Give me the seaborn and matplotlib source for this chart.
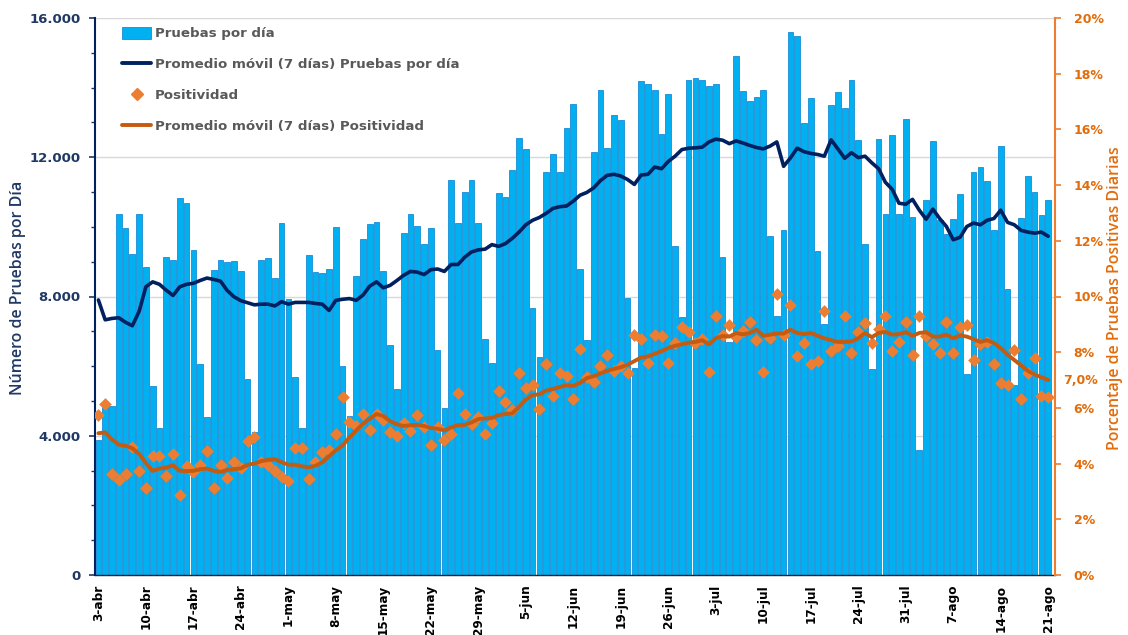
import numpy as np
import pandas as pd
import matplotlib
matplotlib.use("Agg")
import matplotlib.pyplot as plt
from matplotlib.lines import Line2D
from matplotlib.patches import Patch
from matplotlib.ticker import MultipleLocator, FuncFormatter
import seaborn as sns

# ---------------------------------------------------------------- data
fecha_inicio = "2020-04-03"
meses = {4: "abr", 5: "may", 6: "jun", 7: "jul", 8: "ago"}

pruebas_por_dia = [
    3870, 4850, 4850, 10360, 9960, 9220, 10360, 8850, 5430, 4230,
    9140, 9050, 10820, 10700, 9330, 6070, 4540, 8750, 9040, 9000,
    9020, 8740, 5630, 4100, 9050, 9120, 8530, 10110, 7930, 5680,
    4230, 9200, 8700, 8680, 8790, 9990, 6000, 4570, 8590, 9640,
    10090, 10130, 8730, 6610, 5330, 9830, 10360, 10020, 9520, 9960,
    6460, 4810, 11350, 10110, 11000, 11340, 10110, 6790, 6090, 10960,
    10860, 11630, 12550, 12240, 7660, 6270, 11590, 12100, 11590, 12840,
    13530, 8780, 6760, 12160, 13930, 12280, 13220, 13060, 7970, 5940,
    14200, 14100, 13930, 12680, 13810, 9440, 7420, 14230, 14280, 14210,
    14040, 14100, 9130, 6690, 14900, 13900, 13610, 13720, 13940, 9730,
    7430, 9900, 15600, 15490, 12970, 13690, 9320, 7200, 13490, 13880,
    13420, 14210, 12500, 9500, 5920, 12520, 10360, 12630, 10360, 13090,
    10270, 3590, 10780, 12460, 10200, 9800, 10240, 10950, 5780, 11590,
    11710, 11330, 9910, 12310, 8210, 5470, 10260, 11470, 10990, 10340,
    10780,
]

promedio_pruebas = [
    7900, 7330, 7370, 7390, 7260, 7160, 7570, 8280, 8420, 8350,
    8180, 8030, 8280, 8350, 8380, 8460, 8530, 8490, 8440, 8170,
    7990, 7880, 7820, 7760, 7780, 7780, 7730, 7850, 7780, 7830,
    7830, 7830, 7800, 7780, 7600, 7890, 7920, 7940, 7890, 8040,
    8300, 8420, 8250, 8320, 8460, 8610, 8720, 8700, 8630, 8770,
    8790, 8720, 8920, 8920, 9130, 9280, 9340, 9360, 9490, 9440,
    9520, 9670, 9850, 10060, 10190, 10270, 10390, 10530, 10580, 10600,
    10740, 10910, 10990, 11120, 11330, 11480, 11510, 11460, 11360, 11220,
    11490, 11510, 11720, 11670, 11880, 12030, 12220, 12260, 12270, 12290,
    12440, 12520, 12490, 12390, 12470, 12410, 12340, 12280, 12240, 12320,
    12440, 11740, 11980, 12260, 12160, 12110, 12080, 12030, 12500, 12240,
    11970, 12130, 11990, 12030, 11840, 11670, 11280, 11080, 10680, 10650,
    10790, 10480, 10220, 10510, 10240, 10010, 9630, 9700, 10010, 10110,
    10060, 10190, 10240, 10480, 10130, 10060, 9900, 9850, 9820, 9850,
    9730,
]

positividad = [
    5.74, 6.13, 3.64, 3.41, 3.61, 4.61, 3.74, 3.12, 4.26, 4.26,
    3.54, 4.33, 2.86, 3.90, 3.70, 3.96, 4.44, 3.12, 3.96, 3.47,
    4.05, 3.83, 4.81, 4.96, 4.05, 3.96, 3.74, 3.51, 3.38, 4.55,
    4.57, 3.45, 4.05, 4.42, 4.48, 5.06, 6.39, 5.48, 5.35, 5.78,
    5.19, 5.78, 5.58, 5.13, 5.00, 5.45, 5.17, 5.74, 5.30, 4.65,
    5.32, 4.83, 5.06, 6.52, 5.78, 5.41, 5.69, 5.06, 5.45, 6.62,
    6.20, 5.91, 7.27, 6.72, 6.81, 5.97, 7.59, 6.42, 7.24, 7.14,
    6.32, 8.11, 7.11, 6.94, 7.50, 7.89, 7.33, 7.50, 7.27, 8.63,
    8.47, 7.63, 8.60, 8.59, 7.63, 8.33, 8.92, 8.73, 8.33, 8.46,
    7.29, 9.31, 8.63, 8.99, 8.54, 8.76, 9.08, 8.43, 7.29, 8.52,
    10.09, 8.63, 9.69, 7.88, 8.33, 7.59, 7.69, 9.49, 8.04, 8.24,
    9.30, 7.98, 8.72, 9.05, 8.33, 8.85, 9.31, 8.04, 8.37, 9.08,
    7.91, 9.31, 8.59, 8.28, 7.98, 9.08, 7.98, 8.92, 8.98, 7.72,
    8.30, 8.37, 7.59, 6.88, 6.81, 8.07, 6.33, 7.24, 7.78, 6.42,
    6.39,
]

promedio_positividad = [
    5.09, 5.12, 4.87, 4.68, 4.64, 4.55, 4.35, 4.02, 3.74, 3.82,
    3.86, 3.94, 3.74, 3.73, 3.74, 3.80, 3.82, 3.74, 3.70, 3.77,
    3.80, 3.83, 3.96, 4.00, 4.09, 4.13, 4.16, 4.05, 3.96, 3.96,
    3.90, 3.87, 3.92, 4.05, 4.26, 4.48, 4.65, 4.94, 5.19, 5.43,
    5.61, 5.78, 5.71, 5.52, 5.41, 5.35, 5.38, 5.39, 5.35, 5.28,
    5.25, 5.19, 5.30, 5.38, 5.39, 5.48, 5.60, 5.62, 5.64, 5.74,
    5.78, 5.80, 6.04, 6.30, 6.46, 6.49, 6.62, 6.68, 6.75, 6.81,
    6.79, 6.90, 7.07, 7.14, 7.24, 7.33, 7.40, 7.46, 7.55, 7.68,
    7.81, 7.85, 7.94, 8.04, 8.15, 8.23, 8.28, 8.34, 8.37, 8.43,
    8.28, 8.50, 8.58, 8.56, 8.69, 8.64, 8.69, 8.81, 8.59, 8.63,
    8.67, 8.67, 8.81, 8.69, 8.65, 8.69, 8.59, 8.50, 8.43, 8.37,
    8.37, 8.39, 8.50, 8.69, 8.54, 8.69, 8.73, 8.63, 8.65, 8.72,
    8.59, 8.69, 8.72, 8.56, 8.56, 8.63, 8.50, 8.60, 8.56, 8.47,
    8.37, 8.43, 8.33, 8.15, 7.91, 7.72, 7.53, 7.33, 7.20, 7.10,
    7.00,
]

# ---------------------------------------------------------------- styling
AZUL_BARRA = "#00B0F0"
AZUL_BORDE = "#1A8BD6"
AZUL_OSCURO = "#002060"
AZUL_TEXTO = "#1F3864"
NARANJA = "#ED7D31"
NARANJA_OSCURO = "#C55A11"
NARANJA_TEXTO = "#E36C0A"
GRIS_LEYENDA = "#595959"

sns.set_theme(style="white")
plt.rcParams["font.family"] = ["DejaVu Sans"]

fechas = pd.date_range(fecha_inicio, periods=len(pruebas_por_dia), freq="D")
df = pd.DataFrame({
    "dia": np.arange(len(pruebas_por_dia)),
    "pruebas": pruebas_por_dia,
    "promedio_pruebas": promedio_pruebas,
    "positividad": positividad,
    "promedio_positividad": promedio_positividad,
})

fig = plt.figure(figsize=(11.28, 6.35), dpi=100)
ax = fig.add_axes([95 / 1128, 1 - 575 / 635, 960 / 1128, 557 / 635])

# daily tests (bars) and their 7-day average
sns.barplot(data=df, x="dia", y="pruebas", native_scale=True, color=AZUL_BARRA,
            saturation=1, width=0.84, edgecolor=AZUL_BORDE, linewidth=0.6, ax=ax,
            zorder=2)
sns.lineplot(data=df, x="dia", y="promedio_pruebas", color=AZUL_OSCURO, lw=2.6,
             estimator=None, ax=ax, zorder=3)

ax.set_xlim(-0.5, 141.0)
ax.set_ylim(0, 16000)
ax.set_xlabel("")
ax.set_ylabel("")

ax.yaxis.set_major_locator(MultipleLocator(4000))
ax.yaxis.set_minor_locator(MultipleLocator(1000))
ax.yaxis.set_major_formatter(FuncFormatter(lambda v, _: f"{int(v):,}".replace(",", ".")))
ax.tick_params(axis="y", which="major", direction="out", length=4.5, width=1.2,
               color=AZUL_TEXTO, labelcolor=AZUL_TEXTO, labelsize=9.5, pad=6)
ax.tick_params(axis="y", which="minor", direction="out", length=3, width=1.0,
               color=AZUL_TEXTO)
for lab in ax.get_yticklabels():
    lab.set_fontweight("bold")

semanas = list(range(0, len(fechas), 7))
ax.set_xticks(semanas)
ax.set_xticklabels([f"{fechas[i].day}-{meses[fechas[i].month]}" for i in semanas],
                   rotation=90, fontsize=8.7, fontweight="bold", color="black")
ax.xaxis.set_minor_locator(MultipleLocator(1))
ax.tick_params(axis="x", which="major", direction="out", length=5, width=1.2,
               color="black", pad=2)
ax.tick_params(axis="x", which="minor", direction="out", length=2.5, width=0.8,
               color="black")

ax.grid(axis="y", which="major", color="#D9D9D9", lw=1.0, zorder=0)
ax.grid(axis="x", visible=False)
ax.set_axisbelow(True)
for s in ("top", "right"):
    ax.spines[s].set_visible(False)
ax.spines["left"].set_color(AZUL_OSCURO)
ax.spines["left"].set_linewidth(1.5)
ax.spines["bottom"].set_color("#222222")
ax.spines["bottom"].set_linewidth(1.0)

# positivity (right axis)
ax2 = ax.twinx()
sns.scatterplot(data=df, x="dia", y="positividad", marker="D", s=42, color=NARANJA,
                linewidth=0, ax=ax2, zorder=4)
sns.lineplot(data=df, x="dia", y="promedio_positividad", color=NARANJA_OSCURO, lw=2.8,
             estimator=None, ax=ax2, zorder=5)
ax2.set_ylim(0, 20)
ax2.set_xlim(-0.5, 141.0)
ax2.set_ylabel("")
ax2.set_xlabel("")
ax2.yaxis.set_major_locator(MultipleLocator(2))
ax2.yaxis.set_major_formatter(FuncFormatter(lambda v, _: f"{v:.0f}%"))
ax2.tick_params(axis="y", which="major", direction="out", length=4.5, width=1.2,
                color=NARANJA, labelcolor=NARANJA_TEXTO, labelsize=9, pad=9)
for lab in ax2.get_yticklabels():
    lab.set_fontweight("bold")
ax2.grid(False)
for s in ("top", "left", "bottom"):
    ax2.spines[s].set_visible(False)
ax2.spines["right"].set_color(NARANJA)
ax2.spines["right"].set_linewidth(1.5)

ultimo = promedio_positividad[-1]
ax2.annotate(f"{ultimo:.1f}%".replace(".", ","), xy=(1.0, ultimo),
             xycoords=("axes fraction", "data"), xytext=(6, 0),
             textcoords="offset points", va="center", ha="left",
             color=NARANJA_TEXTO, fontsize=9, fontweight="bold")

# axis titles
fig.text(18 / 1128, 1 - 288 / 635, "Número de Pruebas por Día", rotation=90,
         ha="center", va="center", color=AZUL_TEXTO, fontsize=11.5,
         family="Open Sans", fontweight="semibold")
fig.text(1115 / 1128, 1 - 298 / 635, "Porcentaje de Pruebas Positivas Diarias",
         rotation=90, ha="center", va="center", color=NARANJA_TEXTO, fontsize=11.5,
         family="Open Sans", fontweight="semibold")

# legend
handles = [
    Patch(facecolor=AZUL_BARRA, edgecolor=AZUL_BORDE, linewidth=0.6),
    Line2D([], [], color=AZUL_OSCURO, lw=2.8),
    Line2D([], [], color=NARANJA, marker="D", markersize=6.5, linestyle="None"),
    Line2D([], [], color=NARANJA_OSCURO, lw=2.8),
]
etiquetas = [
    "Pruebas por día",
    "Promedio móvil (7 días) Pruebas por día",
    "Positividad",
    "Promedio móvil (7 días) Positividad",
]
leg = ax2.legend(handles, etiquetas, loc="upper left", bbox_to_anchor=(0.028, 0.984),
                 frameon=False, borderpad=0, borderaxespad=0, handlelength=2.2,
                 handleheight=1.0, handletextpad=0.25, labelspacing=1.3,
                 prop={"size": 9.6, "weight": "bold"})
for t in leg.get_texts():
    t.set_color(GRIS_LEYENDA)

fig.savefig("out.png", dpi=100)
